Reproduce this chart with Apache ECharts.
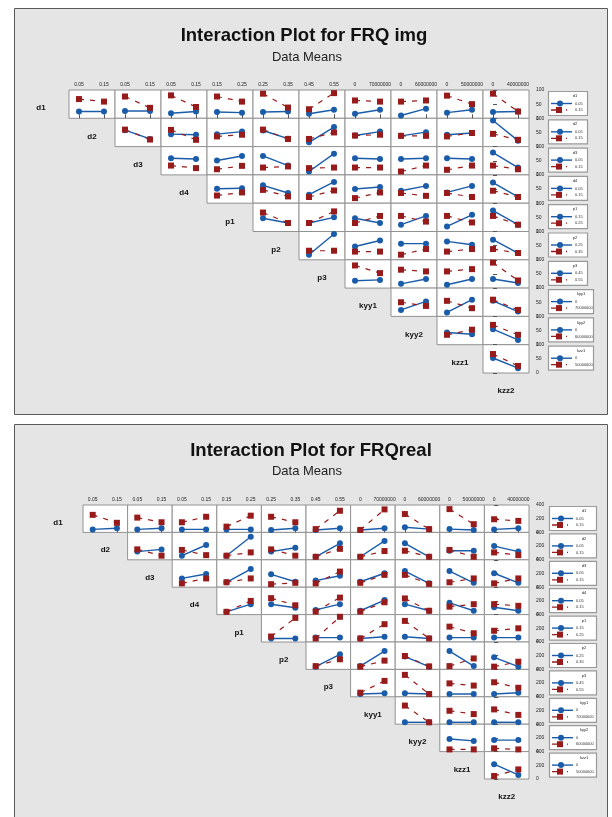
<!DOCTYPE html>
<html>
<head>
<meta charset="utf-8">
<script src="https://cdn.jsdelivr.net/npm/echarts@6/dist/echarts.min.js"></script>
<style>
html,body{margin:0;padding:0;background:#fff;}
#c{width:612px;height:817px;}
</style>
</head>
<body>
<div id="c"></div>
<script>
// Factors of the design and their two levels (low, high)
const factors = ['d1','d2','d3','d4','p1','p2','p3','kyy1','kyy2','kzz1','kzz2'];
const levels = [
  ['0.05','0.15'], ['0.05','0.15'], ['0.05','0.15'], ['0.05','0.15'],
  ['0.15','0.25'], ['0.25','0.35'], ['0.45','0.55'],
  ['0','70000000'], ['0','60000000'], ['0','50000000'], ['0','40000000']
];

// FRQ img means. Row r = line factor (factors[r]); entry k = x factor factors[r+1+k].
// Each pair is [mean at x low, mean at x high].
const imgLowLine = [
  [[24,24],[26,26],[18,24],[22,20],[22,24],[16,30],[16,30],[10,34],[20,30],[22,24]],
  [[58,27],[44,42],[44,53],[57,28],[15,69],[39,53],[38,51],[42,48],[92,21]],
  [[59,56],[51,67],[67,33],[12,75],[59,56],[56,59],[59,56],[79,26]],
  [[51,53],[63,36],[30,75],[50,57],[44,61],[38,61],[73,22]],
  [[47,30],[30,50],[47,30],[24,55],[18,59],[74,24]],
  [[18,91],[47,68],[57,57],[65,53],[71,24]],
  [[26,29],[15,32],[12,32],[32,18]],
  [[23,53],[14,59],[55,17]],
  [[43,37],[55,17]],
  [[53,17]]
];
const imgHighLine = [
  [[68,59],[77,37],[81,40],[77,59],[87,38],[32,89],[63,59],[59,63],[80,50],[87,24]],
  [[60,25],[59,24],[36,42],[60,27],[27,50],[39,42],[38,38],[36,48],[45,24]],
  [[33,24],[20,32],[26,30],[24,26],[26,26],[12,33],[18,33],[33,20]],
  [[27,38],[47,24],[22,45],[18,38],[36,26],[36,22],[44,22]],
  [[67,30],[30,71],[30,55],[55,35],[55,32],[55,24]],
  [[32,32],[29,29],[18,38],[29,38],[38,24]],
  [[80,53],[65,59],[59,67],[90,27]],
  [[50,37],[55,29],[59,23]],
  [[35,53],[70,35]],
  [[67,25]]
];

// FRQreal means, same layout
const realLowLine = [
  [[44,60],[44,60],[44,44],[44,44],[36,60],[36,60],[36,60],[76,48],[48,36],[44,60]],
  [[120,152],[60,216],[60,336],[120,176],[44,240],[44,276],[240,44],[132,132],[200,120]],
  [[128,192],[72,264],[188,80],[96,168],[80,204],[236,56],[236,64],[204,64]],
  [[40,152],[152,100],[68,152],[56,212],[152,56],[172,56],[108,56]],
  [[52,52],[64,64],[52,76],[76,52],[64,64],[64,64]],
  [[40,220],[48,268],[188,40],[268,48],[176,40]],
  [[40,52],[52,40],[40,40],[40,60]],
  [[28,28],[28,28],[28,28]],
  [[184,156],[168,168]],
  [[216,60]]
];
const realHighLine = [
  [[256,140],[216,148],[148,228],[84,244],[228,148],[48,316],[36,336],[268,48],[340,120],[192,168]],
  [[152,60],[144,68],[60,108],[152,60],[44,160],[44,128],[132,44],[144,44],[108,68]],
  [[56,128],[72,128],[44,64],[56,228],[64,180],[180,48],[72,128],[56,128]],
  [[40,200],[240,136],[44,248],[44,180],[236,56],[116,152],[152,128]],
  [[80,352],[52,368],[52,260],[308,52],[224,128],[164,200]],
  [[48,148],[40,128],[196,44],[48,160],[40,112]],
  [[60,232],[320,40],[196,164],[212,132]],
  [[272,28],[196,148],[216,136]],
  [[32,32],[48,32]],
  [[44,140]]
];

// Response axis ranges
const imgAxisMax = 100;
const realAxisMax = 400;

const BLUE = '#1a5ca9';
const RED = '#981b1b';
const FONT = '"Liberation Sans", Arial, sans-serif';

const panels = [
  {
    title: 'Interaction Plot for FRQ img', subtitle: 'Data Means',
    low: imgLowLine, high: imgHighLine, ymax: imgAxisMax,
    frame: [14.5, 8.5, 593, 406], titleX: 304, titleY: 36, subY: 57,
    gx: 69, gy: 90, cw: 46, ch: 28.3, firstLabelX: 41,
    lx: 548, lw: [39,39,39,39,39,39,39,45,45,45], labelMargin: 3
  },
  {
    title: 'Interaction Plot for FRQreal', subtitle: 'Data Means',
    low: realLowLine, high: realHighLine, ymax: realAxisMax,
    frame: [14.5, 424.5, 593, 420], titleX: 311, titleY: 451, subY: 471,
    gx: 83, gy: 505, cw: 44.6, ch: 27.4, firstLabelX: 58,
    lx: 549, lw: [47,47,47,47,47,47,47,47,47,47], labelMargin: 3
  }
];

const grids = [], xAxes = [], yAxes = [], series = [], graphics = [];
const nRows = factors.length - 1;

panels.forEach(P => {
  const [fx, fy, fw, fh] = P.frame;
  graphics.push({type:'rect', z:-20, shape:{x:fx, y:fy, width:fw, height:fh},
    style:{fill:'#e5e5e5', stroke:'#5a5a5a', lineWidth:1}});
  graphics.push({type:'text', z:5, x:P.titleX, y:P.titleY,
    style:{text:P.title, font:'bold 18.5px ' + FONT, fill:'#111', align:'center', verticalAlign:'middle'}});
  graphics.push({type:'text', z:5, x:307, y:P.subY,
    style:{text:P.subtitle, font:'13px ' + FONT, fill:'#222', align:'center', verticalAlign:'middle'}});

  for (let r = 0; r < nRows; r++) {
    const top = P.gy + r * P.ch;
    for (let c = r; c < nRows; c++) {
      const gi = grids.length;
      const xf = c + 1;
      grids.push({left:P.gx + c * P.cw, top:top, width:P.cw, height:P.ch,
        show:true, backgroundColor:'#fff', borderColor:'#929292', borderWidth:1});
      xAxes.push({
        gridIndex:gi, type:'value', min:-0.4, max:1.44, position:'top',
        show: r === 0,
        axisLine:{show:false}, splitLine:{show:false},
        axisTick:{show:true, customValues:[0,1], length:4, lineStyle:{color:'#555', width:1}},
        axisLabel:{show:true, customValues:[0,1], margin:P.labelMargin, fontSize:5, color:'#222', fontFamily:FONT,
          formatter: v => levels[xf][v < 0.5 ? 0 : 1]}
      });
      yAxes.push({
        gridIndex:gi, type:'value', min:0, max:P.ymax, interval:P.ymax / 2, position:'right',
        show: c === nRows - 1,
        axisLine:{show:false}, splitLine:{show:false},
        axisTick:{show:true, length:4, lineStyle:{color:'#555', width:1}},
        axisLabel:{margin:7, fontSize:5, color:'#222', fontFamily:FONT}
      });
      const k = c - r;
      const lo = P.low[r][k], hi = P.high[r][k];
      series.push({
        type:'line', xAxisIndex:gi, yAxisIndex:gi, silent:true, clip:false,
        data:[[0, lo[0]], [1, lo[1]]],
        symbol:'circle', symbolSize:6,
        lineStyle:{color:BLUE, width:1.4}, itemStyle:{color:BLUE}, z:3
      });
      series.push({
        type:'line', xAxisIndex:gi, yAxisIndex:gi, silent:true, clip:false,
        data:[[0, hi[0]], [1, hi[1]]],
        symbol:'rect', symbolSize:6,
        lineStyle:{color:RED, width:1.2, type:[5,6]}, itemStyle:{color:RED}, z:4
      });
    }

    // row factor label on the diagonal
    const lxp = r === 0 ? P.firstLabelX : P.gx + (r - 1) * P.cw + P.cw / 2;
    graphics.push({type:'text', z:5, x:lxp, y:top + P.ch / 2 + 4,
      style:{text:factors[r], font:'bold 8px ' + FONT, fill:'#111', align:'center', verticalAlign:'middle'}});

    // legend box for the line factor of this row
    const bx = P.lx, by = top + 1, bw = P.lw[r];
    graphics.push({type:'rect', z:5, shape:{x:bx + 0.5, y:by + 0.5, width:bw, height:24},
      style:{fill:'#fff', stroke:'#9a9a9a', lineWidth:1.2}});
    graphics.push({type:'text', z:6, x:bx + bw - 12, y:by + 5,
      style:{text:factors[r], font:'4px ' + FONT, fill:'#222', align:'center', verticalAlign:'middle'}});
    graphics.push({type:'line', z:6, shape:{x1:bx + 3, y1:by + 12.5, x2:bx + 24, y2:by + 12.5},
      style:{stroke:BLUE, lineWidth:1.4}});
    graphics.push({type:'circle', z:7, shape:{cx:bx + 12, cy:by + 12.5, r:3}, style:{fill:BLUE}});
    graphics.push({type:'line', z:6, shape:{x1:bx + 3, y1:by + 19, x2:bx + 24, y2:by + 19},
      style:{stroke:RED, lineWidth:1.3, lineDash:[6,3,0,6,1,20]}});
    graphics.push({type:'rect', z:7, shape:{x:bx + 8, y:by + 16, width:6, height:6}, style:{fill:RED}});
    graphics.push({type:'text', z:6, x:bx + 27, y:by + 12.5,
      style:{text:levels[r][0], font:'4px ' + FONT, fill:'#333', align:'left', verticalAlign:'middle'}});
    graphics.push({type:'text', z:6, x:bx + 27, y:by + 19,
      style:{text:levels[r][1], font:'4px ' + FONT, fill:'#333', align:'left', verticalAlign:'middle'}});
  }
  // last factor label below the matrix
  graphics.push({type:'text', z:5, x:P.gx + (nRows - 1) * P.cw + P.cw / 2, y:P.gy + nRows * P.ch + P.ch / 2 + 4,
    style:{text:factors[nRows], font:'bold 8px ' + FONT, fill:'#111', align:'center', verticalAlign:'middle'}});
});

const chart = echarts.init(document.getElementById('c'), null, {renderer:'canvas'});
chart.setOption({
  animation:false,
  backgroundColor:'#fff',
  grid:grids, xAxis:xAxes, yAxis:yAxes, series:series,
  graphic:{elements:graphics}
});
</script>
</body>
</html>
